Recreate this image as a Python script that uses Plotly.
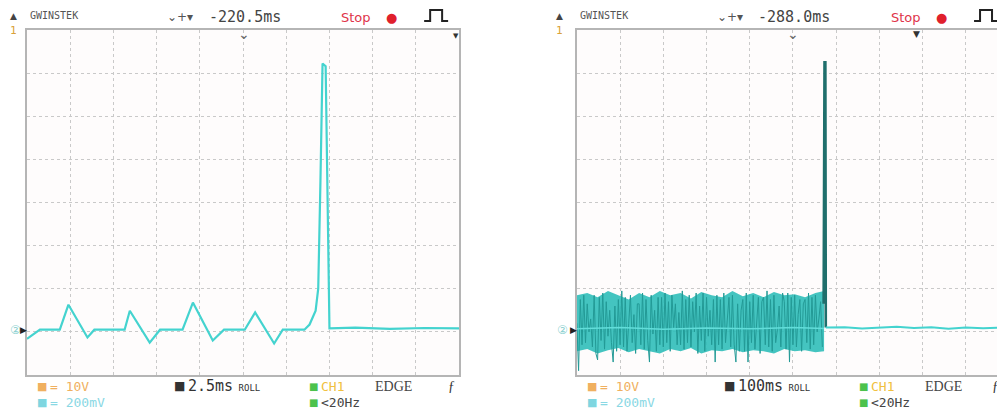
import plotly.graph_objects as go

# page offset of the plot div (browser body margin)
OFF = 8
W, H = 1005 - OFF, 414 - OFF

# ---------------- data ----------------
# Left capture: 2.5 ms/div, CH2 200 mV/div
left_t_ms = [0.0, 0.75, 1.9, 2.4, 3.5, 3.9, 5.65, 5.95, 7.1, 7.7, 9.0, 9.6, 10.75, 11.4, 12.6, 13.2, 14.3, 14.8,
             16.05, 16.35, 16.7, 16.85, 16.98, 17.1, 17.28, 17.38, 17.5, 19.0, 21.0, 23.0, 25.0]
left_v_mv = [-632, -590, -590, -474, -626, -590, -590, -502, -650, -590, -590, -464, -640, -590, -590, -510, -654, -590,
             -590, -566, -502, -400, 102, 644, 632, 56, -584, -580, -586, -582, -584]

# Right capture: 100 ms/div, CH2 200 mV/div
band_t_ms = [i * 4 for i in range(143)]
band_v_mv = [-560, -780, -450, -660, -430, -650, -470, -600, -540, -670, -430, -700,
             -730, -440, -640, -420, -680, -460, -620, -500, -650, -740, -480, -690,
             -450, -660, -410, -670, -440, -690, -560, -430, -650, -520, -700, -470,
             -470, -660, -420, -680, -450, -640, -740, -430, -610, -500, -690, -440,
             -660, -440, -670, -420, -650, -460, -690, -430, -580, -470, -660, -510,
             -660, -410, -680, -450, -650, -430, -670, -460, -600, -420, -700, -480,
             -640, -420, -690, -440, -620, -500, -660, -450, -740, -430, -660, -450,
             -680, -420, -650, -560, -440, -670, -430, -660, -740, -470, -690, -500,
             -450, -690, -420, -740, -460, -650, -430, -680, -530, -440, -700, -460,
             -440, -660, -410, -670, -450, -690, -430, -650, -590, -480, -670, -420,
             -460, -680, -420, -740, -440, -660, -430, -670, -520, -450, -690, -470,
             -450, -650, -420, -680, -440, -660, -430, -600, -540, -460, -670]
env_t_ms = [0, 24, 48, 72, 96, 120, 144, 168, 192, 216, 240, 264, 288, 312, 336, 360, 384, 408, 432, 456, 480, 504, 528,
            552, 572]
env_hi_mv = [-430, -420, -440, -410, -430, -450, -420, -440, -410, -430, -420, -445, -415, -430, -440, -410, -435, -420,
             -440, -415, -430, -425, -440, -420, -410]
env_lo_mv = [-690, -680, -700, -685, -675, -695, -680, -690, -700, -680, -690, -675, -700, -685, -690, -680, -695, -685,
             -690, -700, -680, -690, -685, -695, -690]
mid_t_ms = [0, 100, 200, 300, 400, 500, 572]
mid_v_mv = [-585, -580, -588, -582, -586, -580, -584]
spike_t_ms = [571, 573, 575, 576]
spike_v_mv = [-470, 650, 650, -580]
tail_t_ms = [576, 620, 660, 700, 740, 780, 820, 860, 900, 940, 990]
tail_v_mv = [-580, -578, -584, -580, -576, -582, -579, -585, -580, -583, -580]

# ---------------- figure ----------------
fig = go.Figure()
CYAN = "#44d3cf"

fig.add_trace(go.Scatter(x=left_t_ms, y=left_v_mv, mode="lines", line=dict(color=CYAN, width=2.2),
                         xaxis="x", yaxis="y", hoverinfo="skip"))

fig.add_trace(go.Scatter(x=env_t_ms, y=env_hi_mv, mode="lines", line=dict(color="rgba(0,0,0,0)", width=0),
                         xaxis="x2", yaxis="y2", hoverinfo="skip"))
fig.add_trace(go.Scatter(x=env_t_ms, y=env_lo_mv, mode="lines", line=dict(color="rgba(0,0,0,0)", width=0),
                         fill="tonexty", fillcolor="rgba(48,190,185,0.9)", xaxis="x2", yaxis="y2", hoverinfo="skip"))
fig.add_trace(go.Scatter(x=band_t_ms, y=band_v_mv, mode="lines", line=dict(color="#239a96", width=1),
                         xaxis="x2", yaxis="y2", hoverinfo="skip"))
fig.add_trace(go.Scatter(x=mid_t_ms, y=mid_v_mv, mode="lines", line=dict(color="#62ddd9", width=1.5),
                         xaxis="x2", yaxis="y2", hoverinfo="skip"))
fig.add_trace(go.Scatter(x=spike_t_ms, y=spike_v_mv, mode="lines", line=dict(color="#1f6f6c", width=2.6),
                         xaxis="x2", yaxis="y2", hoverinfo="skip"))
fig.add_trace(go.Scatter(x=tail_t_ms, y=tail_v_mv, mode="lines", line=dict(color=CYAN, width=2),
                         xaxis="x2", yaxis="y2", hoverinfo="skip"))

ytop, ybot = 30 - OFF, 375 - OFF
ydom = [(H - ybot) / H, (H - ytop) / H]

def xax(domain, rng, dtick, anchor):
    return dict(domain=domain, range=rng, dtick=dtick, showgrid=True, gridcolor="#c9c9c9", griddash="dot",
                gridwidth=1, showticklabels=False, ticks="", zeroline=False, showline=True, linecolor="#b5b5b5",
                linewidth=1.5, mirror=True, fixedrange=True, anchor=anchor)

def yax(domain, anchor):
    return dict(domain=domain, range=[-800, 800], dtick=200, showgrid=True, gridcolor="#c9c9c9", griddash="dot",
                gridwidth=1, showticklabels=False, ticks="", zeroline=False, showline=True, linecolor="#b5b5b5",
                linewidth=1.5, mirror=True, anchor=anchor, fixedrange=True)

fig.update_layout(
    width=W, height=H, margin=dict(l=0, r=0, t=0, b=0),
    paper_bgcolor="white", plot_bgcolor="#fefcfc", showlegend=False,
    xaxis=xax([(27 - OFF) / W, (460 - OFF) / W], [0, 25], 2.5, "y"),
    yaxis=yax(ydom, "x"),
    xaxis2=xax([(578 - OFF) / W, 1.0], [0, 986], 100, "y2"),
    yaxis2=yax(ydom, "x2"),
)

def px(x, y):
    return (x - OFF) / W, 1 - (y - OFF) / H

anns = []
shapes = []
def txt(x, y, s, color="#333", size=12, family="DejaVu Sans Mono", xanchor="left"):
    X, Y = px(x, y)
    anns.append(dict(xref="paper", yref="paper", x=X, y=Y, text=s, showarrow=False,
                     xanchor=xanchor, yanchor="middle", font=dict(color=color, size=size, family=family)))

def pulse(x0):
    pts = [px(x0, 21), px(x0 + 6, 21), px(x0 + 6, 10), px(x0 + 18, 10), px(x0 + 18, 21), px(x0 + 24, 21)]
    path = "M " + " L ".join(f"{a:.5f},{b:.5f}" for a, b in pts)
    shapes.append(dict(type="path", xref="paper", yref="paper", path=path,
                       line=dict(color="#222", width=2)))

for off, tv, tdiv in [(0, "-220.5ms", "2.5ms"), (551, "-288.0ms", "100ms")]:
    lx = max(8, 4 + off)
    txt(lx, 16, "▲", "#444", 9, "DejaVu Sans")
    txt(lx, 31, "1", "#d9a13a", 11)
    txt(28 + off, 16, "GWINSTEK", "#555", 10)
    txt(165 + off, 17, "⌄+▾", "#555", 12, "DejaVu Sans")
    txt(207 + off, 17, tv, "#444", 15)
    txt(340 + off, 17, "Stop", "#e0344a", 13, "DejaVu Sans")
    txt(385 + off, 17, "●", "#e0202c", 13, "DejaVu Sans")
    pulse(425 + off)
    txt(236 + off, 34, "⌄", "#666", 14, "DejaVu Sans")
    txt(max(8, 5 + off), 330, "②", "#88cfcf", 12, "DejaVu Sans")
    txt(18 + off, 330, "▶", "#222", 9, "DejaVu Sans")
    # footer
    txt(35 + off, 386, "■", "#f0b060", 11, "DejaVu Sans")
    txt(48 + off, 386, "= 10V", "#f0b060", 13)
    txt(35 + off, 402, "■", "#7fd6e0", 11, "DejaVu Sans")
    txt(48 + off, 402, "= 200mV", "#8ad8e4", 13)
    txt(172 + off, 386, "■", "#333", 12, "DejaVu Sans")
    txt(186 + off, 386, tdiv + "<span style='font-size:9px'> ROLL</span>", "#333", 15)
    txt(308 + off, 386, "■", "#4cc24c", 10, "DejaVu Sans")
    txt(320 + off, 386, "CH1", "#f0c040", 13)
    txt(374 + off, 386, "EDGE", "#444", 14, "Liberation Serif")
    txt(min(447 + off, 992), 386, "ƒ", "#333", 14, "Liberation Serif")
    txt(308 + off, 402, "■", "#4cc24c", 10, "DejaVu Sans")
    txt(320 + off, 402, "<20Hz", "#444", 13)

txt(913, 34, "▼", "#333", 9, "DejaVu Sans")
txt(452, 36, "▼", "#333", 7, "DejaVu Sans")

fig.update_layout(annotations=anns, shapes=shapes)
fig.write_html("out.html")
